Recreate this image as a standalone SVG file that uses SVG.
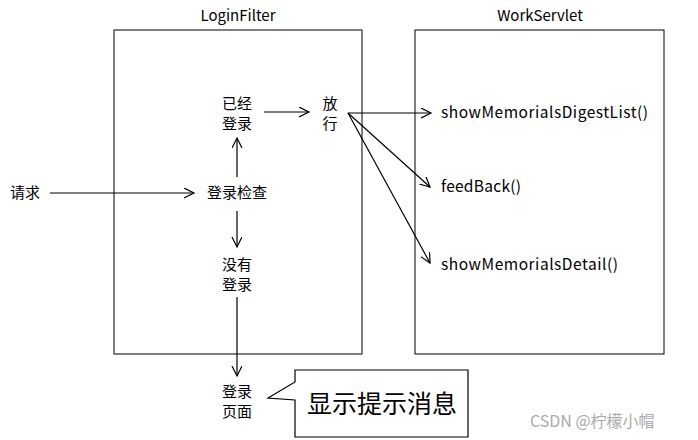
<svg xmlns="http://www.w3.org/2000/svg" width="698" height="440" viewBox="0 0 698 440">
<style>
text{font-family:"Noto Sans CJK SC","Noto Sans",sans-serif;font-size:15px;fill:#000}
.c{text-anchor:middle}
.m{font-size:15.5px}
.box{fill:#fff;stroke:#000;stroke-width:1}
.ln{stroke:#000;stroke-width:1.2;fill:none;marker-end:url(#a)}
</style>
<defs><marker id="a" markerWidth="12" markerHeight="12" refX="10" refY="5" orient="auto" markerUnits="userSpaceOnUse"><path d="M0,0 L10,5 L0,10" fill="none" stroke="#000" stroke-width="1.2"/></marker></defs>
<rect width="698" height="440" fill="#fff"/>
<g id="loginfilter"><rect class="box" x="114" y="30" width="248" height="324"/><text class="c" x="238" y="21">LoginFilter</text></g>
<g id="workservlet"><rect class="box" x="415" y="30" width="249" height="324"/><text class="c" x="540" y="21">WorkServlet</text></g>
<g id="req"><text x="10" y="198">请求</text></g>
<g id="check"><text class="c" x="237" y="198">登录检查</text></g>
<g id="logged"><text class="c" x="237" y="109">已经</text><text class="c" x="237" y="129">登录</text></g>
<g id="notlogged"><text class="c" x="237" y="270">没有</text><text class="c" x="237" y="290">登录</text></g>
<g id="loginpage"><text class="c" x="237" y="397">登录</text><text class="c" x="237" y="417">页面</text></g>
<g id="pass"><text class="c" x="330" y="109">放</text><text class="c" x="330" y="129">行</text></g>
<g id="m1"><text class="m" x="441" y="118" textLength="207">showMemorialsDigestList()</text></g>
<g id="m2"><text class="m" x="441" y="192" textLength="80">feedBack()</text></g>
<g id="m3"><text class="m" x="441" y="270" textLength="177">showMemorialsDetail()</text></g>
<g id="callout"><path d="M295,370 H468 V437 H295 V400 L268,398 L295,382 Z" fill="#fff" stroke="#000" stroke-width="1.2"/><text x="382" y="413" class="c" style="font-size:25px">显示提示消息</text></g>
<g id="connectors">
<line class="ln" x1="50" y1="193" x2="194" y2="193"/>
<line class="ln" x1="237" y1="177" x2="237" y2="138"/>
<line class="ln" x1="237" y1="211" x2="237" y2="247"/>
<line class="ln" x1="237" y1="297" x2="237" y2="376"/>
<line class="ln" x1="264" y1="112" x2="309" y2="112"/>
<line class="ln" x1="348" y1="113" x2="431" y2="113"/>
<line class="ln" x1="348" y1="113" x2="430" y2="187"/>
<line class="ln" x1="348" y1="113" x2="430" y2="263"/>
</g>
<text x="530" y="427" style="font-size:16px;fill:#aaa">CSDN @柠檬小帽</text>
</svg>
